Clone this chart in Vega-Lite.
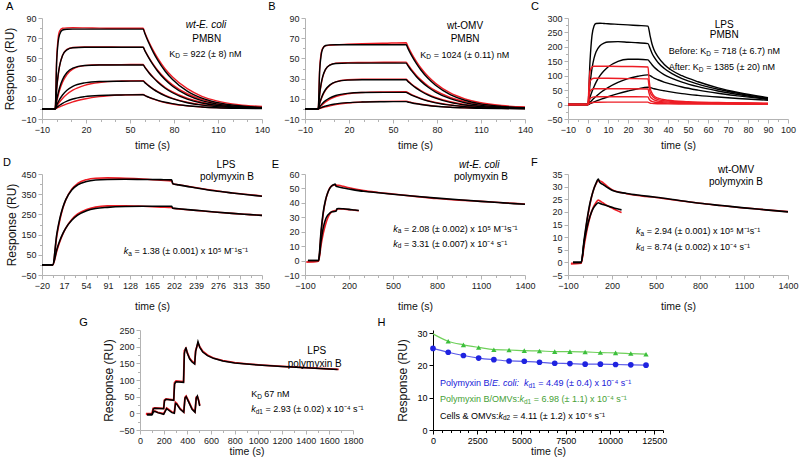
{
"$schema":"https://vega.github.io/schema/vega-lite/v6.json",
"background":"white",
"padding":{"left":2,"top":1,"right":5,"bottom":2},
"config":{
 "view":{"stroke":null},
 "font":"Liberation Sans",
 "axis":{"grid":false,"domainColor":"#b3b3b3","tickColor":"#b3b3b3","labelColor":"#222","labelFont":"Liberation Sans","labelFontSize":9,"titleFont":"Liberation Sans","titleFontWeight":"normal","titleColor":"#111","tickSize":4,"labelPadding":2,"labelFlush":false,"labelOverlap":false},
 "axisX":{"titleFontSize":10.5},
 "axisY":{"titleFontSize":12},
 "text":{"font":"Liberation Sans","baseline":"middle","align":"left"},
 "line":{"strokeWidth":1.4,"interpolate":"monotone"}
},
"datasets":{
"A":[
{"s":"r1","x":-10,"y":0},{"s":"r1","x":-1,"y":0},{"s":"r1","x":0,"y":50},{"s":"r1","x":1,"y":70},{"s":"r1","x":2,"y":77},{"s":"r1","x":4,"y":79.8},{"s":"r1","x":7,"y":80.2},{"s":"r1","x":11,"y":80.3},{"s":"r1","x":19,"y":80.2},{"s":"r1","x":29,"y":80},{"s":"r1","x":44,"y":79.8},{"s":"r1","x":59,"y":79.8},{"s":"r1","x":60,"y":76},{"s":"r1","x":61,"y":72.5},{"s":"r1","x":63,"y":66},{"s":"r1","x":66,"y":57.5},{"s":"r1","x":69,"y":50},{"s":"r1","x":74,"y":39.5},{"s":"r1","x":79,"y":31.5},{"s":"r1","x":89,"y":20},{"s":"r1","x":99,"y":12.5},{"s":"r1","x":109,"y":8},{"s":"r1","x":124,"y":4.2},{"s":"r1","x":140,"y":2.4},
{"s":"r2","x":-10,"y":0},{"s":"r2","x":-1,"y":0},{"s":"r2","x":0,"y":19},{"s":"r2","x":1,"y":33},{"s":"r2","x":2,"y":42.5},{"s":"r2","x":4,"y":53},{"s":"r2","x":7,"y":59},{"s":"r2","x":11,"y":60.8},{"s":"r2","x":19,"y":61.3},{"s":"r2","x":29,"y":61.3},{"s":"r2","x":44,"y":61.2},{"s":"r2","x":59,"y":61},{"s":"r2","x":60,"y":58.3},{"s":"r2","x":61,"y":55.6},{"s":"r2","x":63,"y":50.6},{"s":"r2","x":66,"y":43.8},{"s":"r2","x":69,"y":38},{"s":"r2","x":74,"y":30},{"s":"r2","x":79,"y":23.8},{"s":"r2","x":89,"y":15},{"s":"r2","x":99,"y":9.5},{"s":"r2","x":109,"y":6},{"s":"r2","x":124,"y":3.2},{"s":"r2","x":140,"y":1.9},
{"s":"r3","x":-10,"y":0},{"s":"r3","x":-1,"y":0},{"s":"r3","x":0,"y":7},{"s":"r3","x":1,"y":13},{"s":"r3","x":2,"y":18.3},{"s":"r3","x":4,"y":26.3},{"s":"r3","x":7,"y":34},{"s":"r3","x":11,"y":39.3},{"s":"r3","x":19,"y":42.8},{"s":"r3","x":29,"y":43.7},{"s":"r3","x":44,"y":43.8},{"s":"r3","x":59,"y":44},{"s":"r3","x":60,"y":41.8},{"s":"r3","x":61,"y":39.8},{"s":"r3","x":63,"y":36},{"s":"r3","x":66,"y":31.2},{"s":"r3","x":69,"y":27},{"s":"r3","x":74,"y":21.2},{"s":"r3","x":79,"y":16.8},{"s":"r3","x":89,"y":10.6},{"s":"r3","x":99,"y":6.7},{"s":"r3","x":109,"y":4.3},{"s":"r3","x":124,"y":2.3},{"s":"r3","x":140,"y":1.4},
{"s":"r4","x":-10,"y":0},{"s":"r4","x":-1,"y":0},{"s":"r4","x":0,"y":2.5},{"s":"r4","x":1,"y":4.8},{"s":"r4","x":2,"y":6.8},{"s":"r4","x":4,"y":10.3},{"s":"r4","x":7,"y":14.5},{"s":"r4","x":11,"y":18.5},{"s":"r4","x":19,"y":23.3},{"s":"r4","x":29,"y":26.2},{"s":"r4","x":44,"y":27.6},{"s":"r4","x":59,"y":28},{"s":"r4","x":60,"y":26.7},{"s":"r4","x":61,"y":25.3},{"s":"r4","x":63,"y":22.8},{"s":"r4","x":66,"y":19.6},{"s":"r4","x":69,"y":17},{"s":"r4","x":74,"y":13.3},{"s":"r4","x":79,"y":10.5},{"s":"r4","x":89,"y":6.6},{"s":"r4","x":99,"y":4.2},{"s":"r4","x":109,"y":2.7},{"s":"r4","x":124,"y":1.5},{"s":"r4","x":140,"y":1},
{"s":"r5","x":-10,"y":0},{"s":"r5","x":-1,"y":0},{"s":"r5","x":0,"y":0.7},{"s":"r5","x":1,"y":1.4},{"s":"r5","x":2,"y":2},{"s":"r5","x":4,"y":3.3},{"s":"r5","x":7,"y":5},{"s":"r5","x":11,"y":7},{"s":"r5","x":19,"y":9.8},{"s":"r5","x":29,"y":12.2},{"s":"r5","x":44,"y":13.8},{"s":"r5","x":59,"y":14.3},{"s":"r5","x":60,"y":13.5},{"s":"r5","x":61,"y":12.7},{"s":"r5","x":63,"y":11.4},{"s":"r5","x":66,"y":9.6},{"s":"r5","x":69,"y":8.2},{"s":"r5","x":74,"y":6.2},{"s":"r5","x":79,"y":4.8},{"s":"r5","x":89,"y":3},{"s":"r5","x":99,"y":1.9},{"s":"r5","x":109,"y":1.3},{"s":"r5","x":124,"y":0.8},{"s":"r5","x":140,"y":0.6},
{"s":"k1","x":-10,"y":0},{"s":"k1","x":-1,"y":0},{"s":"k1","x":0,"y":46.8},{"s":"k1","x":1,"y":66},{"s":"k1","x":2,"y":73.7},{"s":"k1","x":4,"y":78.1},{"s":"k1","x":7,"y":78.9},{"s":"k1","x":11,"y":79},{"s":"k1","x":19,"y":79},{"s":"k1","x":29,"y":79},{"s":"k1","x":44,"y":79},{"s":"k1","x":59,"y":79},{"s":"k1","x":60,"y":75.1},{"s":"k1","x":61,"y":71.5},{"s":"k1","x":63,"y":64.7},{"s":"k1","x":66,"y":55.7},{"s":"k1","x":69,"y":48},{"s":"k1","x":74,"y":37.3},{"s":"k1","x":79,"y":29.1},{"s":"k1","x":89,"y":17.6},{"s":"k1","x":99,"y":10.7},{"s":"k1","x":109,"y":6.5},{"s":"k1","x":124,"y":3.1},{"s":"k1","x":140,"y":1.4},
{"s":"k2","x":-10,"y":0},{"s":"k2","x":-1,"y":0},{"s":"k2","x":0,"y":20.1},{"s":"k2","x":1,"y":33.6},{"s":"k2","x":2,"y":42.6},{"s":"k2","x":4,"y":52.8},{"s":"k2","x":7,"y":58.5},{"s":"k2","x":11,"y":60.5},{"s":"k2","x":19,"y":61},{"s":"k2","x":29,"y":61},{"s":"k2","x":44,"y":61},{"s":"k2","x":59,"y":61},{"s":"k2","x":60,"y":58},{"s":"k2","x":61,"y":55.2},{"s":"k2","x":63,"y":50},{"s":"k2","x":66,"y":43},{"s":"k2","x":69,"y":37},{"s":"k2","x":74,"y":28.8},{"s":"k2","x":79,"y":22.4},{"s":"k2","x":89,"y":13.6},{"s":"k2","x":99,"y":8.2},{"s":"k2","x":109,"y":5},{"s":"k2","x":124,"y":2.4},{"s":"k2","x":140,"y":1.1},
{"s":"k3","x":-10,"y":0},{"s":"k3","x":-1,"y":0},{"s":"k3","x":0,"y":8.6},{"s":"k3","x":1,"y":15.5},{"s":"k3","x":2,"y":21},{"s":"k3","x":4,"y":29},{"s":"k3","x":7,"y":36},{"s":"k3","x":11,"y":40.4},{"s":"k3","x":19,"y":43},{"s":"k3","x":29,"y":43.5},{"s":"k3","x":44,"y":43.5},{"s":"k3","x":59,"y":43.5},{"s":"k3","x":60,"y":41.4},{"s":"k3","x":61,"y":39.4},{"s":"k3","x":63,"y":35.6},{"s":"k3","x":66,"y":30.7},{"s":"k3","x":69,"y":26.4},{"s":"k3","x":74,"y":20.5},{"s":"k3","x":79,"y":16},{"s":"k3","x":89,"y":9.7},{"s":"k3","x":99,"y":5.9},{"s":"k3","x":109,"y":3.6},{"s":"k3","x":124,"y":1.7},{"s":"k3","x":140,"y":0.8},
{"s":"k4","x":-10,"y":0},{"s":"k4","x":-1,"y":0},{"s":"k4","x":0,"y":3.6},{"s":"k4","x":1,"y":6.7},{"s":"k4","x":2,"y":9.4},{"s":"k4","x":4,"y":13.8},{"s":"k4","x":7,"y":18.5},{"s":"k4","x":11,"y":22.4},{"s":"k4","x":19,"y":25.8},{"s":"k4","x":29,"y":27.1},{"s":"k4","x":44,"y":27.4},{"s":"k4","x":59,"y":27.5},{"s":"k4","x":60,"y":26.2},{"s":"k4","x":61,"y":24.9},{"s":"k4","x":63,"y":22.5},{"s":"k4","x":66,"y":19.4},{"s":"k4","x":69,"y":16.7},{"s":"k4","x":74,"y":13},{"s":"k4","x":79,"y":10.1},{"s":"k4","x":89,"y":6.1},{"s":"k4","x":99,"y":3.7},{"s":"k4","x":109,"y":2.3},{"s":"k4","x":124,"y":1.1},{"s":"k4","x":140,"y":0.5},
{"s":"k5","x":-10,"y":0},{"s":"k5","x":-1,"y":0},{"s":"k5","x":0,"y":1.3},{"s":"k5","x":1,"y":2.5},{"s":"k5","x":2,"y":3.6},{"s":"k5","x":4,"y":5.5},{"s":"k5","x":7,"y":7.7},{"s":"k5","x":11,"y":9.8},{"s":"k5","x":19,"y":12.1},{"s":"k5","x":29,"y":13.3},{"s":"k5","x":44,"y":13.8},{"s":"k5","x":59,"y":14},{"s":"k5","x":60,"y":13.3},{"s":"k5","x":61,"y":12.7},{"s":"k5","x":63,"y":11.5},{"s":"k5","x":66,"y":9.9},{"s":"k5","x":69,"y":8.5},{"s":"k5","x":74,"y":6.6},{"s":"k5","x":79,"y":5.2},{"s":"k5","x":89,"y":3.1},{"s":"k5","x":99,"y":1.9},{"s":"k5","x":109,"y":1.1},{"s":"k5","x":124,"y":0.5},{"s":"k5","x":140,"y":0.3}
],
"At":[
{"x":-34.5,"y":100.4,"t":"A","i":0,"f":11,"c":"#000"},
{"x":88,"y":82.8,"t":"wt-E. coli","i":1,"f":10,"c":"#000"},
{"x":92.5,"y":69.6,"t":"PMBN","i":0,"f":10,"c":"#000"},
{"x":76.8,"y":54.4,"t":"K","i":0,"f":9,"c":"#000"},
{"x":80.9,"y":51.9,"t":"D","i":0,"f":6.5,"c":"#000"},
{"x":86,"y":54.4,"t":"= 922 (± 8) nM","i":0,"f":9,"c":"#000"}
],
"B":[
{"s":"r1","x":-10,"y":0},{"s":"r1","x":-1,"y":0},{"s":"r1","x":0,"y":40},{"s":"r1","x":1,"y":55},{"s":"r1","x":2,"y":60},{"s":"r1","x":4,"y":62.5},{"s":"r1","x":7,"y":63},{"s":"r1","x":11,"y":63.5},{"s":"r1","x":19,"y":64},{"s":"r1","x":29,"y":64.5},{"s":"r1","x":44,"y":65},{"s":"r1","x":59,"y":65.5},{"s":"r1","x":60,"y":62.5},{"s":"r1","x":61,"y":59.5},{"s":"r1","x":63,"y":54},{"s":"r1","x":66,"y":46.8},{"s":"r1","x":69,"y":40.5},{"s":"r1","x":74,"y":32},{"s":"r1","x":79,"y":25.3},{"s":"r1","x":89,"y":15.8},{"s":"r1","x":99,"y":10},{"s":"r1","x":109,"y":6.3},{"s":"r1","x":124,"y":3.3},{"s":"r1","x":140,"y":1.9},
{"s":"r2","x":-10,"y":0},{"s":"r2","x":-1,"y":0},{"s":"r2","x":0,"y":14},{"s":"r2","x":1,"y":24},{"s":"r2","x":2,"y":31},{"s":"r2","x":4,"y":39},{"s":"r2","x":7,"y":43.5},{"s":"r2","x":11,"y":45.3},{"s":"r2","x":19,"y":45.8},{"s":"r2","x":29,"y":46},{"s":"r2","x":44,"y":46.2},{"s":"r2","x":59,"y":46.3},{"s":"r2","x":60,"y":44.2},{"s":"r2","x":61,"y":42.2},{"s":"r2","x":63,"y":38.3},{"s":"r2","x":66,"y":33.2},{"s":"r2","x":69,"y":28.8},{"s":"r2","x":74,"y":22.7},{"s":"r2","x":79,"y":18},{"s":"r2","x":89,"y":11.3},{"s":"r2","x":99,"y":7.2},{"s":"r2","x":109,"y":4.6},{"s":"r2","x":124,"y":2.5},{"s":"r2","x":140,"y":1.5},
{"s":"r3","x":-10,"y":0},{"s":"r3","x":-1,"y":0},{"s":"r3","x":0,"y":5},{"s":"r3","x":1,"y":9.3},{"s":"r3","x":2,"y":13},{"s":"r3","x":4,"y":18.5},{"s":"r3","x":7,"y":23.5},{"s":"r3","x":11,"y":26.8},{"s":"r3","x":19,"y":28.8},{"s":"r3","x":29,"y":29.3},{"s":"r3","x":44,"y":29.4},{"s":"r3","x":59,"y":29.4},{"s":"r3","x":60,"y":28},{"s":"r3","x":61,"y":26.7},{"s":"r3","x":63,"y":24.2},{"s":"r3","x":66,"y":21},{"s":"r3","x":69,"y":18.2},{"s":"r3","x":74,"y":14.3},{"s":"r3","x":79,"y":11.3},{"s":"r3","x":89,"y":7.1},{"s":"r3","x":99,"y":4.5},{"s":"r3","x":109,"y":2.9},{"s":"r3","x":124,"y":1.6},{"s":"r3","x":140,"y":1},
{"s":"r4","x":-10,"y":0},{"s":"r4","x":-1,"y":0},{"s":"r4","x":0,"y":1.5},{"s":"r4","x":1,"y":3},{"s":"r4","x":2,"y":4.4},{"s":"r4","x":4,"y":6.8},{"s":"r4","x":7,"y":9.6},{"s":"r4","x":11,"y":12.3},{"s":"r4","x":19,"y":15},{"s":"r4","x":29,"y":16.3},{"s":"r4","x":44,"y":16.9},{"s":"r4","x":59,"y":17.1},{"s":"r4","x":60,"y":16.3},{"s":"r4","x":61,"y":15.5},{"s":"r4","x":63,"y":14},{"s":"r4","x":66,"y":12.1},{"s":"r4","x":69,"y":10.4},{"s":"r4","x":74,"y":8.1},{"s":"r4","x":79,"y":6.4},{"s":"r4","x":89,"y":4},{"s":"r4","x":99,"y":2.6},{"s":"r4","x":109,"y":1.7},{"s":"r4","x":124,"y":1},{"s":"r4","x":140,"y":0.7},
{"s":"r5","x":-10,"y":0},{"s":"r5","x":-1,"y":0},{"s":"r5","x":0,"y":0.4},{"s":"r5","x":1,"y":0.8},{"s":"r5","x":2,"y":1.2},{"s":"r5","x":4,"y":2},{"s":"r5","x":7,"y":3},{"s":"r5","x":11,"y":4.2},{"s":"r5","x":19,"y":5.8},{"s":"r5","x":29,"y":6.9},{"s":"r5","x":44,"y":7.5},{"s":"r5","x":59,"y":7.7},{"s":"r5","x":60,"y":7.3},{"s":"r5","x":61,"y":6.9},{"s":"r5","x":63,"y":6.2},{"s":"r5","x":66,"y":5.3},{"s":"r5","x":69,"y":4.6},{"s":"r5","x":74,"y":3.6},{"s":"r5","x":79,"y":2.8},{"s":"r5","x":89,"y":1.8},{"s":"r5","x":99,"y":1.2},{"s":"r5","x":109,"y":0.8},{"s":"r5","x":124,"y":0.5},{"s":"r5","x":140,"y":0.4},
{"s":"k1","x":-10,"y":0},{"s":"k1","x":-1,"y":0},{"s":"k1","x":0,"y":37.7},{"s":"k1","x":1,"y":53},{"s":"k1","x":2,"y":59.2},{"s":"k1","x":4,"y":62.8},{"s":"k1","x":7,"y":63.4},{"s":"k1","x":11,"y":63.5},{"s":"k1","x":19,"y":63.5},{"s":"k1","x":29,"y":63.5},{"s":"k1","x":44,"y":63.5},{"s":"k1","x":59,"y":63.5},{"s":"k1","x":60,"y":60.4},{"s":"k1","x":61,"y":57.5},{"s":"k1","x":63,"y":52},{"s":"k1","x":66,"y":44.8},{"s":"k1","x":69,"y":38.5},{"s":"k1","x":74,"y":30},{"s":"k1","x":79,"y":23.4},{"s":"k1","x":89,"y":14.2},{"s":"k1","x":99,"y":8.6},{"s":"k1","x":109,"y":5.2},{"s":"k1","x":124,"y":2.5},{"s":"k1","x":140,"y":1.1},
{"s":"k2","x":-10,"y":0},{"s":"k2","x":-1,"y":0},{"s":"k2","x":0,"y":14.9},{"s":"k2","x":1,"y":25},{"s":"k2","x":2,"y":31.7},{"s":"k2","x":4,"y":39.2},{"s":"k2","x":7,"y":43.4},{"s":"k2","x":11,"y":44.9},{"s":"k2","x":19,"y":45.3},{"s":"k2","x":29,"y":45.3},{"s":"k2","x":44,"y":45.3},{"s":"k2","x":59,"y":45.3},{"s":"k2","x":60,"y":43.1},{"s":"k2","x":61,"y":41},{"s":"k2","x":63,"y":37.1},{"s":"k2","x":66,"y":31.9},{"s":"k2","x":69,"y":27.5},{"s":"k2","x":74,"y":21.4},{"s":"k2","x":79,"y":16.7},{"s":"k2","x":89,"y":10.1},{"s":"k2","x":99,"y":6.1},{"s":"k2","x":109,"y":3.7},{"s":"k2","x":124,"y":1.8},{"s":"k2","x":140,"y":0.8},
{"s":"k3","x":-10,"y":0},{"s":"k3","x":-1,"y":0},{"s":"k3","x":0,"y":5.7},{"s":"k3","x":1,"y":10.3},{"s":"k3","x":2,"y":13.9},{"s":"k3","x":4,"y":19.2},{"s":"k3","x":7,"y":23.8},{"s":"k3","x":11,"y":26.8},{"s":"k3","x":19,"y":28.5},{"s":"k3","x":29,"y":28.8},{"s":"k3","x":44,"y":28.8},{"s":"k3","x":59,"y":28.8},{"s":"k3","x":60,"y":27.4},{"s":"k3","x":61,"y":26.1},{"s":"k3","x":63,"y":23.6},{"s":"k3","x":66,"y":20.3},{"s":"k3","x":69,"y":17.5},{"s":"k3","x":74,"y":13.6},{"s":"k3","x":79,"y":10.6},{"s":"k3","x":89,"y":6.4},{"s":"k3","x":99,"y":3.9},{"s":"k3","x":109,"y":2.4},{"s":"k3","x":124,"y":1.1},{"s":"k3","x":140,"y":0.5},
{"s":"k4","x":-10,"y":0},{"s":"k4","x":-1,"y":0},{"s":"k4","x":0,"y":2.1},{"s":"k4","x":1,"y":4},{"s":"k4","x":2,"y":5.6},{"s":"k4","x":4,"y":8.2},{"s":"k4","x":7,"y":11},{"s":"k4","x":11,"y":13.3},{"s":"k4","x":19,"y":15.4},{"s":"k4","x":29,"y":16.2},{"s":"k4","x":44,"y":16.4},{"s":"k4","x":59,"y":16.4},{"s":"k4","x":60,"y":15.6},{"s":"k4","x":61,"y":14.8},{"s":"k4","x":63,"y":13.4},{"s":"k4","x":66,"y":11.6},{"s":"k4","x":69,"y":10},{"s":"k4","x":74,"y":7.7},{"s":"k4","x":79,"y":6},{"s":"k4","x":89,"y":3.7},{"s":"k4","x":99,"y":2.2},{"s":"k4","x":109,"y":1.3},{"s":"k4","x":124,"y":0.6},{"s":"k4","x":140,"y":0.3},
{"s":"k5","x":-10,"y":0},{"s":"k5","x":-1,"y":0},{"s":"k5","x":0,"y":0.7},{"s":"k5","x":1,"y":1.3},{"s":"k5","x":2,"y":1.9},{"s":"k5","x":4,"y":2.8},{"s":"k5","x":7,"y":4},{"s":"k5","x":11,"y":5},{"s":"k5","x":19,"y":6.2},{"s":"k5","x":29,"y":6.8},{"s":"k5","x":44,"y":7.1},{"s":"k5","x":59,"y":7.2},{"s":"k5","x":60,"y":6.8},{"s":"k5","x":61,"y":6.5},{"s":"k5","x":63,"y":5.9},{"s":"k5","x":66,"y":5.1},{"s":"k5","x":69,"y":4.4},{"s":"k5","x":74,"y":3.4},{"s":"k5","x":79,"y":2.6},{"s":"k5","x":89,"y":1.6},{"s":"k5","x":99,"y":1},{"s":"k5","x":109,"y":0.6},{"s":"k5","x":124,"y":0.3},{"s":"k5","x":140,"y":0.1}
],
"Bt":[
{"x":-35,"y":100.4,"t":"B","i":0,"f":11,"c":"#000"},
{"x":86.8,"y":81.8,"t":"wt-OMV","i":0,"f":10,"c":"#000"},
{"x":89.3,"y":69.6,"t":"PMBN","i":0,"f":10,"c":"#000"},
{"x":68.6,"y":53.8,"t":"K","i":0,"f":9,"c":"#000"},
{"x":72.7,"y":51.3,"t":"D","i":0,"f":6.5,"c":"#000"},
{"x":77.8,"y":53.8,"t":"= 1024 (± 0.11) nM","i":0,"f":9,"c":"#000"}
],
"C":[
{"s":"k1","x":-10,"y":0},{"s":"k1","x":0,"y":0},{"s":"k1","x":1,"y":150},{"s":"k1","x":2,"y":240},{"s":"k1","x":3,"y":272},{"s":"k1","x":4,"y":281},{"s":"k1","x":6,"y":282},{"s":"k1","x":8,"y":281},{"s":"k1","x":10,"y":280},{"s":"k1","x":15,"y":278},{"s":"k1","x":20,"y":276},{"s":"k1","x":25,"y":274},{"s":"k1","x":30,"y":272},{"s":"k1","x":31,"y":240},{"s":"k1","x":32,"y":210},{"s":"k1","x":33,"y":190},{"s":"k1","x":35,"y":165},{"s":"k1","x":38,"y":140},{"s":"k1","x":42,"y":118},{"s":"k1","x":47,"y":100},{"s":"k1","x":55,"y":79},{"s":"k1","x":65,"y":58},{"s":"k1","x":75,"y":42},{"s":"k1","x":90,"y":24},
{"s":"k2","x":-10,"y":0},{"s":"k2","x":0,"y":0},{"s":"k2","x":1,"y":70},{"s":"k2","x":2,"y":125},{"s":"k2","x":3,"y":160},{"s":"k2","x":4,"y":182},{"s":"k2","x":6,"y":204},{"s":"k2","x":8,"y":213},{"s":"k2","x":10,"y":217},{"s":"k2","x":15,"y":218},{"s":"k2","x":20,"y":216},{"s":"k2","x":25,"y":214},{"s":"k2","x":30,"y":211},{"s":"k2","x":31,"y":195},{"s":"k2","x":32,"y":178},{"s":"k2","x":33,"y":165},{"s":"k2","x":35,"y":146},{"s":"k2","x":38,"y":126},{"s":"k2","x":42,"y":107},{"s":"k2","x":47,"y":90},{"s":"k2","x":55,"y":71},{"s":"k2","x":65,"y":53},{"s":"k2","x":75,"y":39},{"s":"k2","x":90,"y":22},
{"s":"k3","x":-10,"y":0},{"s":"k3","x":0,"y":0},{"s":"k3","x":1,"y":25},{"s":"k3","x":2,"y":45},{"s":"k3","x":3,"y":62},{"s":"k3","x":4,"y":77},{"s":"k3","x":6,"y":100},{"s":"k3","x":8,"y":117},{"s":"k3","x":10,"y":130},{"s":"k3","x":15,"y":150},{"s":"k3","x":20,"y":157},{"s":"k3","x":25,"y":157},{"s":"k3","x":30,"y":155},{"s":"k3","x":31,"y":147},{"s":"k3","x":32,"y":138},{"s":"k3","x":33,"y":130},{"s":"k3","x":35,"y":118},{"s":"k3","x":38,"y":104},{"s":"k3","x":42,"y":91},{"s":"k3","x":47,"y":78},{"s":"k3","x":55,"y":62},{"s":"k3","x":65,"y":47},{"s":"k3","x":75,"y":35},{"s":"k3","x":90,"y":20},
{"s":"k4","x":-10,"y":0},{"s":"k4","x":0,"y":0},{"s":"k4","x":1,"y":8},{"s":"k4","x":2,"y":15},{"s":"k4","x":3,"y":22},{"s":"k4","x":4,"y":28},{"s":"k4","x":6,"y":40},{"s":"k4","x":8,"y":50},{"s":"k4","x":10,"y":59},{"s":"k4","x":15,"y":77},{"s":"k4","x":20,"y":90},{"s":"k4","x":25,"y":98},{"s":"k4","x":30,"y":103},{"s":"k4","x":31,"y":100},{"s":"k4","x":32,"y":96},{"s":"k4","x":33,"y":92},{"s":"k4","x":35,"y":86},{"s":"k4","x":38,"y":78},{"s":"k4","x":42,"y":70},{"s":"k4","x":47,"y":61},{"s":"k4","x":55,"y":50},{"s":"k4","x":65,"y":39},{"s":"k4","x":75,"y":30},{"s":"k4","x":90,"y":18},
{"s":"k5","x":-10,"y":0},{"s":"k5","x":0,"y":0},{"s":"k5","x":1,"y":3},{"s":"k5","x":2,"y":6},{"s":"k5","x":3,"y":9},{"s":"k5","x":4,"y":12},{"s":"k5","x":6,"y":17},{"s":"k5","x":8,"y":22},{"s":"k5","x":10,"y":27},{"s":"k5","x":15,"y":38},{"s":"k5","x":20,"y":47},{"s":"k5","x":25,"y":55},{"s":"k5","x":30,"y":60},{"s":"k5","x":31,"y":59},{"s":"k5","x":32,"y":57},{"s":"k5","x":33,"y":55},{"s":"k5","x":35,"y":52},{"s":"k5","x":38,"y":48},{"s":"k5","x":42,"y":43},{"s":"k5","x":47,"y":38},{"s":"k5","x":55,"y":32},{"s":"k5","x":65,"y":26},{"s":"k5","x":75,"y":21},{"s":"k5","x":90,"y":15},
{"s":"r1","x":-10,"y":0},{"s":"r1","x":0,"y":0},{"s":"r1","x":0.5,"y":70},{"s":"r1","x":1,"y":115},{"s":"r1","x":2,"y":130},{"s":"r1","x":3,"y":133},{"s":"r1","x":5,"y":133},{"s":"r1","x":10,"y":133},{"s":"r1","x":20,"y":132},{"s":"r1","x":30,"y":130},{"s":"r1","x":30.5,"y":90},{"s":"r1","x":31,"y":60},{"s":"r1","x":32,"y":40},{"s":"r1","x":33,"y":30},{"s":"r1","x":35,"y":22},{"s":"r1","x":40,"y":15},{"s":"r1","x":50,"y":10},{"s":"r1","x":65,"y":7},{"s":"r1","x":90,"y":5},
{"s":"r2","x":-10,"y":0},{"s":"r2","x":0,"y":0},{"s":"r2","x":0.5,"y":50},{"s":"r2","x":1,"y":80},{"s":"r2","x":2,"y":89},{"s":"r2","x":3,"y":91},{"s":"r2","x":5,"y":91},{"s":"r2","x":10,"y":91},{"s":"r2","x":20,"y":90},{"s":"r2","x":30,"y":89},{"s":"r2","x":30.5,"y":65},{"s":"r2","x":31,"y":45},{"s":"r2","x":32,"y":31},{"s":"r2","x":33,"y":24},{"s":"r2","x":35,"y":17},{"s":"r2","x":40,"y":12},{"s":"r2","x":50,"y":8},{"s":"r2","x":65,"y":6},{"s":"r2","x":90,"y":4},
{"s":"r3","x":-10,"y":0},{"s":"r3","x":0,"y":0},{"s":"r3","x":0.5,"y":28},{"s":"r3","x":1,"y":46},{"s":"r3","x":2,"y":53},{"s":"r3","x":3,"y":55},{"s":"r3","x":5,"y":55},{"s":"r3","x":10,"y":55},{"s":"r3","x":20,"y":55},{"s":"r3","x":30,"y":54},{"s":"r3","x":30.5,"y":40},{"s":"r3","x":31,"y":29},{"s":"r3","x":32,"y":21},{"s":"r3","x":33,"y":16},{"s":"r3","x":35,"y":12},{"s":"r3","x":40,"y":8.5},{"s":"r3","x":50,"y":6},{"s":"r3","x":65,"y":4.5},{"s":"r3","x":90,"y":3},
{"s":"r4","x":-10,"y":0},{"s":"r4","x":0,"y":0},{"s":"r4","x":0.5,"y":12},{"s":"r4","x":1,"y":20},{"s":"r4","x":2,"y":25},{"s":"r4","x":3,"y":26.5},{"s":"r4","x":5,"y":27},{"s":"r4","x":10,"y":27},{"s":"r4","x":20,"y":27},{"s":"r4","x":30,"y":26.5},{"s":"r4","x":30.5,"y":20},{"s":"r4","x":31,"y":15},{"s":"r4","x":32,"y":11},{"s":"r4","x":33,"y":9},{"s":"r4","x":35,"y":7},{"s":"r4","x":40,"y":5},{"s":"r4","x":50,"y":4},{"s":"r4","x":65,"y":3},{"s":"r4","x":90,"y":2},
{"s":"r5","x":-10,"y":0},{"s":"r5","x":0,"y":0},{"s":"r5","x":0.5,"y":3},{"s":"r5","x":1,"y":5},{"s":"r5","x":2,"y":7},{"s":"r5","x":3,"y":7.5},{"s":"r5","x":5,"y":8},{"s":"r5","x":10,"y":8.5},{"s":"r5","x":20,"y":8.5},{"s":"r5","x":30,"y":8.5},{"s":"r5","x":30.5,"y":6.5},{"s":"r5","x":31,"y":5},{"s":"r5","x":32,"y":4},{"s":"r5","x":33,"y":3.5},{"s":"r5","x":35,"y":3},{"s":"r5","x":40,"y":2.5},{"s":"r5","x":50,"y":2},{"s":"r5","x":65,"y":1.5},{"s":"r5","x":90,"y":1}
],
"Ct":[
{"x":-28.5,"y":336.4,"t":"C","i":0,"f":11,"c":"#000"},
{"x":63.4,"y":277,"t":"LPS","i":0,"f":10,"c":"#000"},
{"x":60.9,"y":242.5,"t":"PMBN","i":0,"f":10,"c":"#000"},
{"x":40.4,"y":184.6,"t":"Before: K","i":0,"f":9,"c":"#000"},
{"x":59.1,"y":176,"t":"D","i":0,"f":6.5,"c":"#000"},
{"x":62.9,"y":184.6,"t":"= 718 (± 6.7) nM","i":0,"f":9,"c":"#000"},
{"x":40.4,"y":129.2,"t":"After: K","i":0,"f":9,"c":"#000"},
{"x":55.4,"y":120.5,"t":"D","i":0,"f":6.5,"c":"#000"},
{"x":59.1,"y":129.2,"t":"= 1385 (± 20) nM","i":0,"f":9,"c":"#000"}
],
"D":[
{"s":"r1","x":-20,"y":0},{"s":"r1","x":-2,"y":0},{"s":"r1","x":5,"y":145},{"s":"r1","x":10,"y":222},{"s":"r1","x":15,"y":280},{"s":"r1","x":20,"y":322},{"s":"r1","x":30,"y":375},{"s":"r1","x":40,"y":403},{"s":"r1","x":55,"y":422},{"s":"r1","x":70,"y":429},{"s":"r1","x":90,"y":431},{"s":"r1","x":120,"y":429},{"s":"r1","x":150,"y":425},{"s":"r1","x":180,"y":419},{"s":"r1","x":198,"y":416},{"s":"r1","x":200,"y":402},{"s":"r1","x":210,"y":397},{"s":"r1","x":240,"y":382},{"s":"r1","x":270,"y":368},{"s":"r1","x":300,"y":356},{"s":"r1","x":330,"y":347},{"s":"r1","x":350,"y":341},
{"s":"r2","x":-20,"y":0},{"s":"r2","x":-2,"y":0},{"s":"r2","x":5,"y":70},{"s":"r2","x":10,"y":115},{"s":"r2","x":15,"y":152},{"s":"r2","x":20,"y":182},{"s":"r2","x":30,"y":225},{"s":"r2","x":40,"y":252},{"s":"r2","x":55,"y":274},{"s":"r2","x":70,"y":286},{"s":"r2","x":90,"y":292},{"s":"r2","x":120,"y":293},{"s":"r2","x":150,"y":290},{"s":"r2","x":180,"y":286},{"s":"r2","x":198,"y":284},{"s":"r2","x":200,"y":280},{"s":"r2","x":210,"y":277},{"s":"r2","x":240,"y":269},{"s":"r2","x":270,"y":262},{"s":"r2","x":300,"y":255},{"s":"r2","x":330,"y":249},{"s":"r2","x":350,"y":245},
{"s":"k1","x":-20,"y":0},{"s":"k1","x":-2,"y":0},{"s":"k1","x":5,"y":155},{"s":"k1","x":10,"y":230},{"s":"k1","x":15,"y":284},{"s":"k1","x":20,"y":323},{"s":"k1","x":30,"y":371},{"s":"k1","x":40,"y":396},{"s":"k1","x":55,"y":413},{"s":"k1","x":70,"y":420},{"s":"k1","x":90,"y":423},{"s":"k1","x":120,"y":424},{"s":"k1","x":150,"y":423},{"s":"k1","x":180,"y":422},{"s":"k1","x":198,"y":421},{"s":"k1","x":200,"y":402},{"s":"k1","x":210,"y":396},{"s":"k1","x":240,"y":381},{"s":"k1","x":270,"y":367},{"s":"k1","x":300,"y":356},{"s":"k1","x":330,"y":346},{"s":"k1","x":350,"y":340},
{"s":"k2","x":-20,"y":0},{"s":"k2","x":-2,"y":0},{"s":"k2","x":5,"y":78},{"s":"k2","x":10,"y":121},{"s":"k2","x":15,"y":155},{"s":"k2","x":20,"y":182},{"s":"k2","x":30,"y":221},{"s":"k2","x":40,"y":246},{"s":"k2","x":55,"y":268},{"s":"k2","x":70,"y":279},{"s":"k2","x":90,"y":285},{"s":"k2","x":120,"y":289},{"s":"k2","x":150,"y":290},{"s":"k2","x":180,"y":290},{"s":"k2","x":198,"y":290},{"s":"k2","x":200,"y":281},{"s":"k2","x":210,"y":278},{"s":"k2","x":240,"y":270},{"s":"k2","x":270,"y":262},{"s":"k2","x":300,"y":255},{"s":"k2","x":330,"y":249},{"s":"k2","x":350,"y":245}
],
"Dt":[
{"x":-85.6,"y":504.5,"t":"D","i":0,"f":11,"c":"#000"},
{"x":273.6,"y":493,"t":"LPS","i":0,"f":10,"c":"#000"},
{"x":245.7,"y":433.7,"t":"polymyxin B","i":0,"f":10,"c":"#000"},
{"x":117.4,"y":67.3,"t":"k","i":1,"f":9,"c":"#000"},
{"x":125,"y":55,"t":"a","i":0,"f":6.5,"c":"#000"},
{"x":135.6,"y":67.3,"t":"= 1.38 (± 0.001) x 10⁵ M⁻¹s⁻¹","i":0,"f":9,"c":"#000"}
],
"E":[
{"s":"r1","x":-90,"y":-1},{"s":"r1","x":-8,"y":-0.5},{"s":"r1","x":10,"y":19},{"s":"r1","x":25,"y":33},{"s":"r1","x":40,"y":41.5},{"s":"r1","x":55,"y":47},{"s":"r1","x":70,"y":50.5},{"s":"r1","x":85,"y":52},{"s":"r1","x":100,"y":52.3},{"s":"r1","x":106,"y":52.4},{"s":"r1","x":112,"y":52.3},{"s":"r1","x":130,"y":52.2},{"s":"r1","x":160,"y":51.5},{"s":"r1","x":200,"y":50.5},{"s":"r1","x":300,"y":48.5},{"s":"r1","x":400,"y":47.2},{"s":"r1","x":500,"y":46.1},{"s":"r1","x":650,"y":44.5},{"s":"r1","x":800,"y":43},{"s":"r1","x":950,"y":41.9},{"s":"r1","x":1100,"y":41},{"s":"r1","x":1250,"y":40.1},{"s":"r1","x":1400,"y":39.2},
{"s":"r2","x":-90,"y":-1},{"s":"r2","x":-8,"y":-0.5},{"s":"r2","x":10,"y":11},{"s":"r2","x":25,"y":19},{"s":"r2","x":40,"y":25},{"s":"r2","x":55,"y":29.5},{"s":"r2","x":70,"y":32.5},{"s":"r2","x":85,"y":34},{"s":"r2","x":100,"y":34.5},{"s":"r2","x":112,"y":34.8},{"s":"r2","x":118,"y":35.5},{"s":"r2","x":130,"y":35.8},{"s":"r2","x":160,"y":35.7},{"s":"r2","x":200,"y":35.3},{"s":"r2","x":240,"y":34.9},{"s":"r2","x":267,"y":34.5},
{"s":"k1","x":-80,"y":0},{"s":"k1","x":-8,"y":0},{"s":"k1","x":10,"y":21},{"s":"k1","x":25,"y":34},{"s":"k1","x":40,"y":42},{"s":"k1","x":55,"y":47},{"s":"k1","x":70,"y":50.2},{"s":"k1","x":85,"y":52},{"s":"k1","x":100,"y":52.8},{"s":"k1","x":106,"y":53},{"s":"k1","x":112,"y":51.5},{"s":"k1","x":130,"y":51},{"s":"k1","x":160,"y":50.3},{"s":"k1","x":200,"y":49.6},{"s":"k1","x":300,"y":48},{"s":"k1","x":400,"y":47},{"s":"k1","x":500,"y":46},{"s":"k1","x":650,"y":44.6},{"s":"k1","x":800,"y":43.3},{"s":"k1","x":950,"y":42.1},{"s":"k1","x":1100,"y":41},{"s":"k1","x":1250,"y":40},{"s":"k1","x":1400,"y":39},
{"s":"k2","x":-80,"y":0},{"s":"k2","x":-8,"y":0},{"s":"k2","x":10,"y":14},{"s":"k2","x":25,"y":23},{"s":"k2","x":40,"y":28.5},{"s":"k2","x":55,"y":31.5},{"s":"k2","x":70,"y":33},{"s":"k2","x":85,"y":33.8},{"s":"k2","x":100,"y":34},{"s":"k2","x":112,"y":34.3},{"s":"k2","x":118,"y":35.9},{"s":"k2","x":130,"y":36.1},{"s":"k2","x":160,"y":35.9},{"s":"k2","x":200,"y":35.5},{"s":"k2","x":240,"y":35},{"s":"k2","x":267,"y":34.7}
],
"Et":[
{"x":-327,"y":66.5,"t":"E","i":0,"f":11,"c":"#000"},
{"x":950,"y":66.5,"t":"wt-E. coli","i":1,"f":10,"c":"#000"},
{"x":915.9,"y":57.9,"t":"polymyxin B","i":0,"f":10,"c":"#000"},
{"x":502,"y":22.2,"t":"k","i":1,"f":9,"c":"#000"},
{"x":532.7,"y":20.4,"t":"a","i":0,"f":6.5,"c":"#000"},
{"x":575.7,"y":22.2,"t":"= 2.08 (± 0.002) x 10⁵ M⁻¹s⁻¹","i":0,"f":9,"c":"#000"},
{"x":502,"y":11.5,"t":"k","i":1,"f":9,"c":"#000"},
{"x":532.7,"y":9.8,"t":"d","i":0,"f":6.5,"c":"#000"},
{"x":575.7,"y":11.5,"t":"= 3.31 (± 0.007) x 10⁻⁴ s⁻¹","i":0,"f":9,"c":"#000"}
],
"F":[
{"s":"r1","x":-80,"y":-0.5},{"s":"r1","x":-10,"y":-0.3},{"s":"r1","x":10,"y":8},{"s":"r1","x":30,"y":16.5},{"s":"r1","x":50,"y":23},{"s":"r1","x":70,"y":28},{"s":"r1","x":90,"y":31},{"s":"r1","x":107,"y":32.3},{"s":"r1","x":115,"y":32.3},{"s":"r1","x":140,"y":31.5},{"s":"r1","x":170,"y":30},{"s":"r1","x":200,"y":28.8},{"s":"r1","x":300,"y":27.2},{"s":"r1","x":400,"y":26.3},{"s":"r1","x":500,"y":25.7},{"s":"r1","x":650,"y":24.5},{"s":"r1","x":800,"y":23.4},{"s":"r1","x":950,"y":22.4},{"s":"r1","x":1100,"y":21.6},{"s":"r1","x":1250,"y":20.8},{"s":"r1","x":1400,"y":20.1},
{"s":"r2","x":-80,"y":-0.5},{"s":"r2","x":-10,"y":-0.3},{"s":"r2","x":10,"y":6.5},{"s":"r2","x":30,"y":13},{"s":"r2","x":50,"y":18},{"s":"r2","x":70,"y":21.5},{"s":"r2","x":90,"y":23.6},{"s":"r2","x":107,"y":24.7},{"s":"r2","x":115,"y":24.4},{"s":"r2","x":140,"y":23.5},{"s":"r2","x":170,"y":22.4},{"s":"r2","x":200,"y":21.5},{"s":"r2","x":235,"y":20.5},{"s":"r2","x":265,"y":19.7},
{"s":"k1","x":-66,"y":0},{"s":"k1","x":-10,"y":0},{"s":"k1","x":10,"y":9},{"s":"k1","x":30,"y":17},{"s":"k1","x":50,"y":23.5},{"s":"k1","x":70,"y":28},{"s":"k1","x":90,"y":31.2},{"s":"k1","x":107,"y":33},{"s":"k1","x":115,"y":31.8},{"s":"k1","x":140,"y":30.8},{"s":"k1","x":170,"y":29.6},{"s":"k1","x":200,"y":28.6},{"s":"k1","x":300,"y":27.3},{"s":"k1","x":400,"y":26.5},{"s":"k1","x":500,"y":25.8},{"s":"k1","x":650,"y":24.6},{"s":"k1","x":800,"y":23.4},{"s":"k1","x":950,"y":22.5},{"s":"k1","x":1100,"y":21.6},{"s":"k1","x":1250,"y":20.8},{"s":"k1","x":1400,"y":20},
{"s":"k2","x":-66,"y":0},{"s":"k2","x":-10,"y":0},{"s":"k2","x":10,"y":8},{"s":"k2","x":30,"y":14},{"s":"k2","x":50,"y":18.3},{"s":"k2","x":70,"y":21.2},{"s":"k2","x":90,"y":22.8},{"s":"k2","x":107,"y":23.6},{"s":"k2","x":115,"y":23.4},{"s":"k2","x":140,"y":22.9},{"s":"k2","x":170,"y":22.3},{"s":"k2","x":200,"y":21.8},{"s":"k2","x":235,"y":21.2},{"s":"k2","x":265,"y":20.8}
],
"Ft":[
{"x":-352,"y":39.4,"t":"F","i":0,"f":11,"c":"#000"},
{"x":922.7,"y":36.7,"t":"wt-OMV","i":0,"f":10,"c":"#000"},
{"x":861.3,"y":31.8,"t":"polymyxin B","i":0,"f":10,"c":"#000"},
{"x":363.6,"y":12.3,"t":"k","i":1,"f":9,"c":"#000"},
{"x":394.3,"y":11.3,"t":"a","i":0,"f":6.5,"c":"#000"},
{"x":437.3,"y":12.3,"t":"= 2.94 (± 0.001) x 10⁵ M⁻¹s⁻¹","i":0,"f":9,"c":"#000"},
{"x":363.6,"y":6.1,"t":"k","i":1,"f":9,"c":"#000"},
{"x":394.3,"y":5.1,"t":"d","i":0,"f":6.5,"c":"#000"},
{"x":437.3,"y":6.1,"t":"= 8.74 (± 0.002) x 10⁻⁴ s⁻¹","i":0,"f":9,"c":"#000"}
],
"G":[
{"s":"r1","x":50,"y":-1},{"s":"r1","x":100,"y":-1},{"s":"r1","x":112,"y":15},{"s":"r1","x":125,"y":16},{"s":"r1","x":200,"y":15},{"s":"r1","x":207,"y":40},{"s":"r1","x":220,"y":43},{"s":"r1","x":285,"y":40},{"s":"r1","x":292,"y":92},{"s":"r1","x":305,"y":97},{"s":"r1","x":368,"y":95},{"s":"r1","x":375,"y":188},{"s":"r1","x":388,"y":195},{"s":"r1","x":400,"y":182},{"s":"r1","x":420,"y":165},{"s":"r1","x":440,"y":156},{"s":"r1","x":462,"y":150},{"s":"r1","x":470,"y":188},{"s":"r1","x":490,"y":210},{"s":"r1","x":505,"y":200},{"s":"r1","x":530,"y":186},{"s":"r1","x":570,"y":175},{"s":"r1","x":620,"y":166},{"s":"r1","x":700,"y":158},{"s":"r1","x":800,"y":152},{"s":"r1","x":900,"y":148.5},{"s":"r1","x":1000,"y":145.5},{"s":"r1","x":1200,"y":141},{"s":"r1","x":1400,"y":137},{"s":"r1","x":1680,"y":132},
{"s":"r2","x":50,"y":-3},{"s":"r2","x":100,"y":-2},{"s":"r2","x":110,"y":5},{"s":"r2","x":125,"y":7},{"s":"r2","x":150,"y":3},{"s":"r2","x":200,"y":-1},{"s":"r2","x":225,"y":16},{"s":"r2","x":240,"y":12},{"s":"r2","x":270,"y":4},{"s":"r2","x":290,"y":2},{"s":"r2","x":300,"y":33},{"s":"r2","x":310,"y":30},{"s":"r2","x":340,"y":14},{"s":"r2","x":370,"y":4},{"s":"r2","x":380,"y":48},{"s":"r2","x":390,"y":52},{"s":"r2","x":410,"y":37},{"s":"r2","x":440,"y":14},{"s":"r2","x":465,"y":5},{"s":"r2","x":475,"y":48},{"s":"r2","x":485,"y":50},{"s":"r2","x":495,"y":40},{"s":"r2","x":505,"y":24},
{"s":"k1","x":60,"y":-3},{"s":"k1","x":105,"y":-3},{"s":"k1","x":112,"y":13},{"s":"k1","x":125,"y":15},{"s":"k1","x":200,"y":14},{"s":"k1","x":207,"y":38},{"s":"k1","x":220,"y":42},{"s":"k1","x":285,"y":39},{"s":"k1","x":292,"y":88},{"s":"k1","x":305,"y":95},{"s":"k1","x":368,"y":93},{"s":"k1","x":375,"y":180},{"s":"k1","x":388,"y":198},{"s":"k1","x":400,"y":180},{"s":"k1","x":420,"y":163},{"s":"k1","x":440,"y":154},{"s":"k1","x":462,"y":148},{"s":"k1","x":470,"y":185},{"s":"k1","x":490,"y":215},{"s":"k1","x":505,"y":198},{"s":"k1","x":530,"y":184},{"s":"k1","x":570,"y":173},{"s":"k1","x":620,"y":165},{"s":"k1","x":700,"y":157},{"s":"k1","x":800,"y":151},{"s":"k1","x":900,"y":148},{"s":"k1","x":1000,"y":145},{"s":"k1","x":1200,"y":140.5},{"s":"k1","x":1400,"y":136.5},{"s":"k1","x":1670,"y":131.5},
{"s":"k2","x":60,"y":-5},{"s":"k2","x":100,"y":-5},{"s":"k2","x":110,"y":3},{"s":"k2","x":125,"y":6},{"s":"k2","x":150,"y":2},{"s":"k2","x":200,"y":-3},{"s":"k2","x":225,"y":14},{"s":"k2","x":240,"y":10},{"s":"k2","x":270,"y":2},{"s":"k2","x":290,"y":0},{"s":"k2","x":300,"y":30},{"s":"k2","x":310,"y":28},{"s":"k2","x":340,"y":12},{"s":"k2","x":370,"y":3},{"s":"k2","x":380,"y":45},{"s":"k2","x":390,"y":50},{"s":"k2","x":410,"y":35},{"s":"k2","x":440,"y":12},{"s":"k2","x":465,"y":3},{"s":"k2","x":475,"y":45},{"s":"k2","x":485,"y":52},{"s":"k2","x":495,"y":38},{"s":"k2","x":505,"y":22}
],
"Gt":[
{"x":-513,"y":271,"t":"G","i":0,"f":11,"c":"#000"},
{"x":1414,"y":186,"t":"LPS","i":0,"f":10,"c":"#000"},
{"x":1248.5,"y":149,"t":"polymyxin B","i":0,"f":10,"c":"#000"},
{"x":940,"y":58,"t":"K","i":0,"f":9,"c":"#000"},
{"x":990.7,"y":50.5,"t":"D","i":0,"f":6.5,"c":"#000"},
{"x":1051,"y":58,"t":"67 nM","i":0,"f":9,"c":"#000"},
{"x":940,"y":13,"t":"k","i":1,"f":9,"c":"#000"},
{"x":978,"y":5.5,"t":"d1","i":0,"f":6.5,"c":"#000"},
{"x":1060,"y":13,"t":"= 2.93 (± 0.02) x 10⁻⁴ s⁻¹","i":0,"f":9,"c":"#000"}
],
"H":[
{"g":"b","x":0,"y":25.3},{"g":"b","x":860,"y":24.1},{"g":"b","x":1720,"y":23.1},{"g":"b","x":2580,"y":22.3},{"g":"b","x":3440,"y":21.8},{"g":"b","x":4300,"y":21.4},{"g":"b","x":5160,"y":21.3},{"g":"b","x":6020,"y":21},{"g":"b","x":6880,"y":20.7},{"g":"b","x":7740,"y":20.6},{"g":"b","x":8600,"y":20.4},{"g":"b","x":9460,"y":20.4},{"g":"b","x":10320,"y":20.3},{"g":"b","x":11180,"y":20.2},{"g":"b","x":12040,"y":20.1},
{"g":"g","x":0,"y":29.8},{"g":"g","x":860,"y":27.5},{"g":"g","x":1720,"y":26.4},{"g":"g","x":2580,"y":25.6},{"g":"g","x":3440,"y":24.9},{"g":"g","x":4300,"y":24.8},{"g":"g","x":5160,"y":24.6},{"g":"g","x":6020,"y":24.5},{"g":"g","x":6880,"y":24.3},{"g":"g","x":7740,"y":24.3},{"g":"g","x":8600,"y":24.2},{"g":"g","x":9460,"y":24},{"g":"g","x":10320,"y":23.9},{"g":"g","x":11180,"y":23.7},{"g":"g","x":12040,"y":23.5}
],
"Ht":[
{"x":-3143,"y":33.2,"t":"H","i":0,"f":11,"c":"#000"},
{"x":395.7,"y":14.5,"t":"Polymyxin B/","i":0,"f":9,"c":"#2020d8"},
{"x":3335,"y":14.5,"t":"E. coli:","i":1,"f":9,"c":"#2020d8"},
{"x":5143.6,"y":14.5,"t":"k","i":1,"f":9,"c":"#2020d8"},
{"x":5398,"y":13.7,"t":"d1","i":0,"f":6.5,"c":"#2020d8"},
{"x":5946,"y":14.5,"t":"= 4.49 (± 0.4) x 10⁻⁴ s⁻¹","i":0,"f":9,"c":"#2020d8"},
{"x":395.7,"y":9.6,"t":"Polymyxin B/OMVs:","i":0,"f":9,"c":"#45a035"},
{"x":4889,"y":9.6,"t":"k","i":1,"f":9,"c":"#45a035"},
{"x":5143.6,"y":8.8,"t":"d1","i":0,"f":6.5,"c":"#45a035"},
{"x":5692,"y":9.6,"t":"= 6.98 (± 1.1) x 10⁻⁴ s⁻¹","i":0,"f":9,"c":"#45a035"},
{"x":395.7,"y":4.4,"t":"Cells & OMVs:","i":0,"f":9,"c":"#000"},
{"x":3702,"y":4.4,"t":"k","i":1,"f":9,"c":"#000"},
{"x":3956.6,"y":3.6,"t":"d2","i":0,"f":6.5,"c":"#000"},
{"x":4505,"y":4.4,"t":"= 4.11 (± 1.2) x 10⁻⁶ s⁻¹","i":0,"f":9,"c":"#000"}
]
},
"spacing":4,
"vconcat":[
{"spacing":5,"vconcat":[
 {"bounds":"flush","spacing":43,"hconcat":[
  {"width":220,"height":101,
   "encoding":{
    "x":{"field":"x","type":"quantitative","scale":{"domain":[-10,140],"nice":false,"zero":false},"axis":{"title":"time (s)","titlePadding":6,"values":[-10,0,10,20,30,40,50,60,70,80,90,100,110,120,130,140],"labelExpr":"(datum.value+10)%30==0 ? datum.label : ''","tickSize":{"condition":{"test":"(datum.value+10)%30==0","value":4},"value":2.5}}},
    "y":{"field":"y","type":"quantitative","scale":{"domain":[-10,90],"nice":false,"zero":false},"axis":{"title":"Response (RU)","titlePadding":4,"values":[-10,0,10,20,30,40,50,60,70,80,90],"labelExpr":"(datum.value+10)%20==0 ? datum.label : ''","tickSize":{"condition":{"test":"(datum.value+10)%20==0","value":4},"value":2.5}}}},
   "layer":[
    {"data":{"name":"A"},"transform":[{"filter":"indexof(datum.s,'r')==0"}],"mark":{"type":"line","color":"#ed1c24"},"encoding":{"detail":{"field":"s"}}},
    {"data":{"name":"A"},"transform":[{"filter":"indexof(datum.s,'k')==0"}],"mark":{"type":"line","color":"#000"},"encoding":{"detail":{"field":"s"}}},
    {"data":{"name":"At"},"transform":[{"filter":"datum.i==0"}],"mark":{"type":"text"},"encoding":{"text":{"field":"t"},"size":{"field":"f","type":"quantitative","scale":null},"color":{"field":"c","type":"nominal","scale":null}}},
    {"data":{"name":"At"},"transform":[{"filter":"datum.i==1"}],"mark":{"type":"text","fontStyle":"italic"},"encoding":{"text":{"field":"t"},"size":{"field":"f","type":"quantitative","scale":null},"color":{"field":"c","type":"nominal","scale":null}}}
   ]},
  {"width":220,"height":101,
   "encoding":{
    "x":{"field":"x","type":"quantitative","scale":{"domain":[-10,140],"nice":false,"zero":false},"axis":{"title":"time (s)","titlePadding":6,"values":[-10,0,10,20,30,40,50,60,70,80,90,100,110,120,130,140],"labelExpr":"(datum.value+10)%30==0 ? datum.label : ''","tickSize":{"condition":{"test":"(datum.value+10)%30==0","value":4},"value":2.5}}},
    "y":{"field":"y","type":"quantitative","scale":{"domain":[-10,90],"nice":false,"zero":false},"axis":{"title":null,"values":[-10,0,10,20,30,40,50,60,70,80,90],"labelExpr":"(datum.value+10)%20==0 ? datum.label : ''","tickSize":{"condition":{"test":"(datum.value+10)%20==0","value":4},"value":2.5}}}},
   "layer":[
    {"data":{"name":"B"},"transform":[{"filter":"indexof(datum.s,'r')==0"}],"mark":{"type":"line","color":"#ed1c24"},"encoding":{"detail":{"field":"s"}}},
    {"data":{"name":"B"},"transform":[{"filter":"indexof(datum.s,'k')==0"}],"mark":{"type":"line","color":"#000"},"encoding":{"detail":{"field":"s"}}},
    {"data":{"name":"Bt"},"transform":[{"filter":"datum.i==0"}],"mark":{"type":"text"},"encoding":{"text":{"field":"t"},"size":{"field":"f","type":"quantitative","scale":null},"color":{"field":"c","type":"nominal","scale":null}}}
   ]},
  {"width":220,"height":101,
   "encoding":{
    "x":{"field":"x","type":"quantitative","scale":{"domain":[-10,100],"nice":false,"zero":false},"axis":{"title":"time (s)","titlePadding":6,"values":[-10,-5,0,5,10,15,20,25,30,35,40,45,50,55,60,65,70,75,80,85,90,95,100],"labelExpr":"datum.value%10==0 ? datum.label : ''","tickSize":{"condition":{"test":"datum.value%10==0","value":4},"value":2.5}}},
    "y":{"field":"y","type":"quantitative","scale":{"domain":[-50,300],"nice":false,"zero":false},"axis":{"title":null,"values":[-50,-25,0,25,50,75,100,125,150,175,200,225,250,275,300],"labelExpr":"datum.value%50==0 ? datum.label : ''","tickSize":{"condition":{"test":"datum.value%50==0","value":4},"value":2.5}}}},
   "layer":[
    {"data":{"name":"C"},"transform":[{"filter":"indexof(datum.s,'k')==0"}],"mark":{"type":"line","color":"#000"},"encoding":{"detail":{"field":"s"}}},
    {"data":{"name":"C"},"transform":[{"filter":"indexof(datum.s,'r')==0"}],"mark":{"type":"line","color":"#ed1c24"},"encoding":{"detail":{"field":"s"}}},
    {"data":{"name":"Ct"},"transform":[{"filter":"datum.i==0"}],"mark":{"type":"text"},"encoding":{"text":{"field":"t"},"size":{"field":"f","type":"quantitative","scale":null},"color":{"field":"c","type":"nominal","scale":null}}}
   ]}
 ]},
 {"bounds":"flush","spacing":43,"hconcat":[
  {"width":220,"height":101,
   "encoding":{
    "x":{"field":"x","type":"quantitative","scale":{"domain":[-20,350],"nice":false,"zero":false},"axis":{"title":"time (s)","titlePadding":11,"values":[-20,-1.5,17,35.5,54,72.5,91,109.5,128,146.5,165,183.5,202,220.5,239,257.5,276,294.5,313,331.5,350],"labelExpr":"(datum.value+20)%37==0 ? datum.label : ''","tickSize":{"condition":{"test":"(datum.value+20)%37==0","value":4},"value":2.5}}},
    "y":{"field":"y","type":"quantitative","scale":{"domain":[-50,450],"nice":false,"zero":false},"axis":{"title":"Response (RU)","titlePadding":2.5,"values":[-50,0,50,100,150,200,250,300,350,400,450],"labelExpr":"(datum.value+50)%100==0 ? datum.label : ''","tickSize":{"condition":{"test":"(datum.value+50)%100==0","value":4},"value":2.5}}}},
   "layer":[
    {"data":{"name":"D"},"transform":[{"filter":"indexof(datum.s,'r')==0"}],"mark":{"type":"line","color":"#ed1c24","strokeWidth":1.6},"encoding":{"detail":{"field":"s"}}},
    {"data":{"name":"D"},"transform":[{"filter":"indexof(datum.s,'k')==0"}],"mark":{"type":"line","color":"#000","strokeWidth":1.6},"encoding":{"detail":{"field":"s"}}},
    {"data":{"name":"Dt"},"transform":[{"filter":"datum.i==0"}],"mark":{"type":"text"},"encoding":{"text":{"field":"t"},"size":{"field":"f","type":"quantitative","scale":null},"color":{"field":"c","type":"nominal","scale":null}}},
    {"data":{"name":"Dt"},"transform":[{"filter":"datum.i==1"}],"mark":{"type":"text","fontStyle":"italic"},"encoding":{"text":{"field":"t"},"size":{"field":"f","type":"quantitative","scale":null},"color":{"field":"c","type":"nominal","scale":null}}}
   ]},
  {"width":220,"height":101,
   "encoding":{
    "x":{"field":"x","type":"quantitative","scale":{"domain":[-100,1400],"nice":false,"zero":false},"axis":{"title":"time (s)","titlePadding":11,"values":[-100,0,100,200,300,400,500,600,700,800,900,1000,1100,1200,1300,1400],"labelExpr":"(datum.value+100)%300==0 ? datum.label : ''","format":"d","tickSize":{"condition":{"test":"(datum.value+100)%300==0","value":4},"value":2.5}}},
    "y":{"field":"y","type":"quantitative","scale":{"domain":[-10,60],"nice":false,"zero":false},"axis":{"title":null,"values":[-10,0,10,20,30,40,50,60]}}},
   "layer":[
    {"data":{"name":"E"},"transform":[{"filter":"indexof(datum.s,'r')==0"}],"mark":{"type":"line","color":"#ed1c24","strokeWidth":1.6},"encoding":{"detail":{"field":"s"}}},
    {"data":{"name":"E"},"transform":[{"filter":"indexof(datum.s,'k')==0"}],"mark":{"type":"line","color":"#000","strokeWidth":1.6},"encoding":{"detail":{"field":"s"}}},
    {"data":{"name":"Et"},"transform":[{"filter":"datum.i==0"}],"mark":{"type":"text"},"encoding":{"text":{"field":"t"},"size":{"field":"f","type":"quantitative","scale":null},"color":{"field":"c","type":"nominal","scale":null}}},
    {"data":{"name":"Et"},"transform":[{"filter":"datum.i==1"}],"mark":{"type":"text","fontStyle":"italic"},"encoding":{"text":{"field":"t"},"size":{"field":"f","type":"quantitative","scale":null},"color":{"field":"c","type":"nominal","scale":null}}}
   ]},
  {"width":220,"height":101,
   "encoding":{
    "x":{"field":"x","type":"quantitative","scale":{"domain":[-100,1400],"nice":false,"zero":false},"axis":{"title":"time (s)","titlePadding":11,"values":[-100,0,100,200,300,400,500,600,700,800,900,1000,1100,1200,1300,1400],"labelExpr":"(datum.value+100)%300==0 ? datum.label : ''","format":"d","tickSize":{"condition":{"test":"(datum.value+100)%300==0","value":4},"value":2.5}}},
    "y":{"field":"y","type":"quantitative","scale":{"domain":[-5,35],"nice":false,"zero":false},"axis":{"title":null,"values":[-5,0,5,10,15,20,25,30,35]}}},
   "layer":[
    {"data":{"name":"F"},"transform":[{"filter":"indexof(datum.s,'r')==0"}],"mark":{"type":"line","color":"#ed1c24","strokeWidth":1.6},"encoding":{"detail":{"field":"s"}}},
    {"data":{"name":"F"},"transform":[{"filter":"indexof(datum.s,'k')==0"}],"mark":{"type":"line","color":"#000","strokeWidth":1.6},"encoding":{"detail":{"field":"s"}}},
    {"data":{"name":"Ft"},"transform":[{"filter":"datum.i==0"}],"mark":{"type":"text"},"encoding":{"text":{"field":"t"},"size":{"field":"f","type":"quantitative","scale":null},"color":{"field":"c","type":"nominal","scale":null}}},
    {"data":{"name":"Ft"},"transform":[{"filter":"datum.i==1"}],"mark":{"type":"text","fontStyle":"italic"},"encoding":{"text":{"field":"t"},"size":{"field":"f","type":"quantitative","scale":null},"color":{"field":"c","type":"nominal","scale":null}}}
   ]}
 ]}
]},
{"bounds":"flush","spacing":80,"hconcat":[
  {"width":18,"height":100,"data":{"values":[{"a":1}]},"mark":{"type":"point","opacity":0}},
  {"width":213,"height":100,
   "encoding":{
    "x":{"field":"x","type":"quantitative","scale":{"domain":[0,1800],"nice":false,"zero":false},"axis":{"title":"time (s)","titlePadding":1,"values":[0,100,200,300,400,500,600,700,800,900,1000,1100,1200,1300,1400,1500,1600,1700,1800],"labelExpr":"datum.value%200==0 ? datum.label : ''","format":"d","tickSize":{"condition":{"test":"datum.value%200==0","value":4},"value":2.5}}},
    "y":{"field":"y","type":"quantitative","scale":{"domain":[-50,250],"nice":false,"zero":false},"axis":{"title":"Response (RU)","titlePadding":3,"values":[-50,-25,0,25,50,75,100,125,150,175,200,225,250],"labelExpr":"datum.value%50==0 ? datum.label : ''","tickSize":{"condition":{"test":"datum.value%50==0","value":4},"value":2.5}}}},
   "layer":[
    {"data":{"name":"G"},"transform":[{"filter":"indexof(datum.s,'r')==0"}],"mark":{"type":"line","color":"#ed1c24","strokeWidth":1.8,"interpolate":"linear"},"encoding":{"detail":{"field":"s"}}},
    {"data":{"name":"G"},"transform":[{"filter":"indexof(datum.s,'k')==0"}],"mark":{"type":"line","color":"#000","strokeWidth":1.5,"interpolate":"linear"},"encoding":{"detail":{"field":"s"}}},
    {"data":{"name":"Gt"},"transform":[{"filter":"datum.i==0"}],"mark":{"type":"text"},"encoding":{"text":{"field":"t"},"size":{"field":"f","type":"quantitative","scale":null},"color":{"field":"c","type":"nominal","scale":null}}},
    {"data":{"name":"Gt"},"transform":[{"filter":"datum.i==1"}],"mark":{"type":"text","fontStyle":"italic"},"encoding":{"text":{"field":"t"},"size":{"field":"f","type":"quantitative","scale":null},"color":{"field":"c","type":"nominal","scale":null}}}
   ]},
  {"width":230,"height":100,
   "encoding":{
    "x":{"field":"x","type":"quantitative","scale":{"domain":[0,13000],"nice":false,"zero":false},"axis":{"title":"time (s)","titlePadding":1,"domainColor":"#000","tickColor":"#000","labelColor":"#000","values":[0,500,1000,1500,2000,2500,3000,3500,4000,4500,5000,5500,6000,6500,7000,7500,8000,8500,9000,9500,10000,10500,11000,11500,12000,12500,13000],"labelExpr":"datum.value%2500==0 ? datum.label : ''","format":"d","tickSize":{"condition":{"test":"datum.value%2500==0","value":4},"value":2.5}}},
    "y":{"field":"y","type":"quantitative","scale":{"domain":[0,31],"nice":false,"zero":false},"axis":{"title":"Response (RU)","titlePadding":7,"domainColor":"#000","tickColor":"#000","labelColor":"#000","values":[0,10,20,30]}}},
   "layer":[
    {"data":{"name":"H"},"transform":[{"filter":"datum.g=='b'"}],"mark":{"type":"line","color":"#5a5ae8","strokeWidth":1.2},"encoding":{}},
    {"data":{"name":"H"},"transform":[{"filter":"datum.g=='g'"}],"mark":{"type":"line","color":"#6fd05a","strokeWidth":1.2},"encoding":{}},
    {"data":{"name":"H"},"transform":[{"filter":"datum.g=='b'"}],"mark":{"type":"point","shape":"circle","filled":true,"color":"#1f23e0","size":32,"opacity":1},"encoding":{}},
    {"data":{"name":"H"},"transform":[{"filter":"datum.g=='g' && datum.x>0"}],"mark":{"type":"point","shape":"triangle-up","filled":true,"color":"#3cbf3c","size":28,"opacity":1},"encoding":{}},
    {"data":{"name":"Ht"},"transform":[{"filter":"datum.i==0"}],"mark":{"type":"text"},"encoding":{"text":{"field":"t"},"size":{"field":"f","type":"quantitative","scale":null},"color":{"field":"c","type":"nominal","scale":null}}},
    {"data":{"name":"Ht"},"transform":[{"filter":"datum.i==1"}],"mark":{"type":"text","fontStyle":"italic"},"encoding":{"text":{"field":"t"},"size":{"field":"f","type":"quantitative","scale":null},"color":{"field":"c","type":"nominal","scale":null}}}
   ]}
]}
]
}
